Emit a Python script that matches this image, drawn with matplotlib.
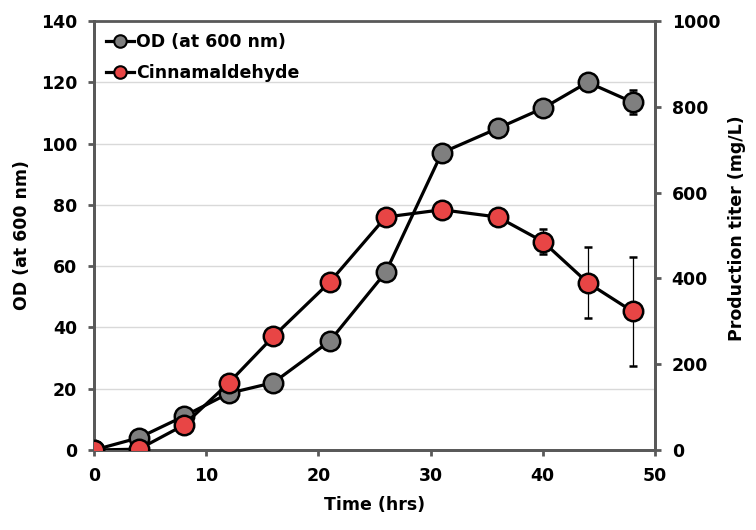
import matplotlib
matplotlib.use("Agg")
import matplotlib.pyplot as plt
from matplotlib.lines import Line2D

plt.rcParams['font.family'] = ['DejaVu Sans']
plt.rcParams['font.weight'] = 'bold'

time_hrs = [0, 4, 8, 12, 16, 21, 26, 31, 36, 40, 44, 48]
od_values = [0, 4, 11, 18.5, 22, 35.5, 58, 97, 105, 111.5, 120, 113.5]
od_err = [0, 0, 0, 0, 0, 0, 0, 0, 0, 0, 0, 4]
cinn_values = [0, 2, 58, 156, 265, 391, 543, 560, 543, 486, 390, 323]
cinn_err = [0, 0, 0, 0, 0, 0, 0, 0, 0, 28, 83, 126]

x_ticks = [0, 10, 20, 30, 40, 50]
left_ticks = [0, 20, 40, 60, 80, 100, 120, 140]
right_ticks = [0, 200, 400, 600, 800, 1000]

FS = 12.5
spine_c = '#595959'
fig = plt.figure(figsize=(7.56, 5.30), dpi=100)
ax = fig.add_axes([0.1243, 0.1509, 0.7421, 0.8095])
ax2 = ax.twinx()

ax.set_xlim(0, 50)
ax.set_ylim(0, 140)
ax2.set_ylim(0, 1000)
ax.set_xticks(x_ticks)
ax.set_yticks(left_ticks)
ax2.set_yticks(right_ticks)
ax.yaxis.grid(True, color='#d9d9d9', linewidth=1)
ax.set_axisbelow(True)

for a in (ax, ax2):
    for s in a.spines.values():
        s.set_color(spine_c)
        s.set_linewidth(2.0)
    a.tick_params(direction='out', length=4, width=2, color=spine_c,
                  labelsize=FS, labelcolor='black', pad=8)
ax.spines['top'].set_visible(False)

ax.errorbar(time_hrs, od_values, yerr=od_err, color='black', linewidth=2.3,
            marker='o', markersize=14, markerfacecolor='#7f7f7f',
            markeredgecolor='black', markeredgewidth=1.8,
            ecolor='black', elinewidth=0.9, capsize=3, capthick=0.9,
            label='OD (at 600 nm)', zorder=3)
ax2.errorbar(time_hrs, cinn_values, yerr=cinn_err, color='black', linewidth=2.3,
             marker='o', markersize=14, markerfacecolor='#e84545',
             markeredgecolor='black', markeredgewidth=1.8,
             ecolor='black', elinewidth=0.9, capsize=3, capthick=0.9,
             label='Cinnamaldehyde', zorder=3)

for t in ax.get_xticklabels() + ax.get_yticklabels() + ax2.get_yticklabels():
    t.set_fontweight('bold')

ax.set_xlabel('Time (hrs)', fontsize=FS, fontweight='bold', labelpad=8)
ax.set_ylabel('OD (at 600 nm)', fontsize=FS, fontweight='bold', labelpad=7)
ax2.set_ylabel('Production titer (mg/L)', fontsize=FS, fontweight='bold', labelpad=6)
ax2.yaxis.label.set_y(0.516)

h1 = Line2D([], [], color='black', linewidth=2.3, marker='o', markersize=9,
            markerfacecolor='#7f7f7f', markeredgecolor='black', markeredgewidth=1.5)
h2 = Line2D([], [], color='black', linewidth=2.3, marker='o', markersize=9,
            markerfacecolor='#e84545', markeredgecolor='black', markeredgewidth=1.5)
ax2.legend([h1, h2], ['OD (at 600 nm)', 'Cinnamaldehyde'], loc='upper left',
           frameon=False, handlelength=1.6, handletextpad=0.1,
           prop={'size': FS, 'weight': 'bold'}, borderaxespad=0.3,
           labelspacing=0.75, bbox_to_anchor=(0.0, 1.0))

fig.savefig('out.png', dpi=100)
